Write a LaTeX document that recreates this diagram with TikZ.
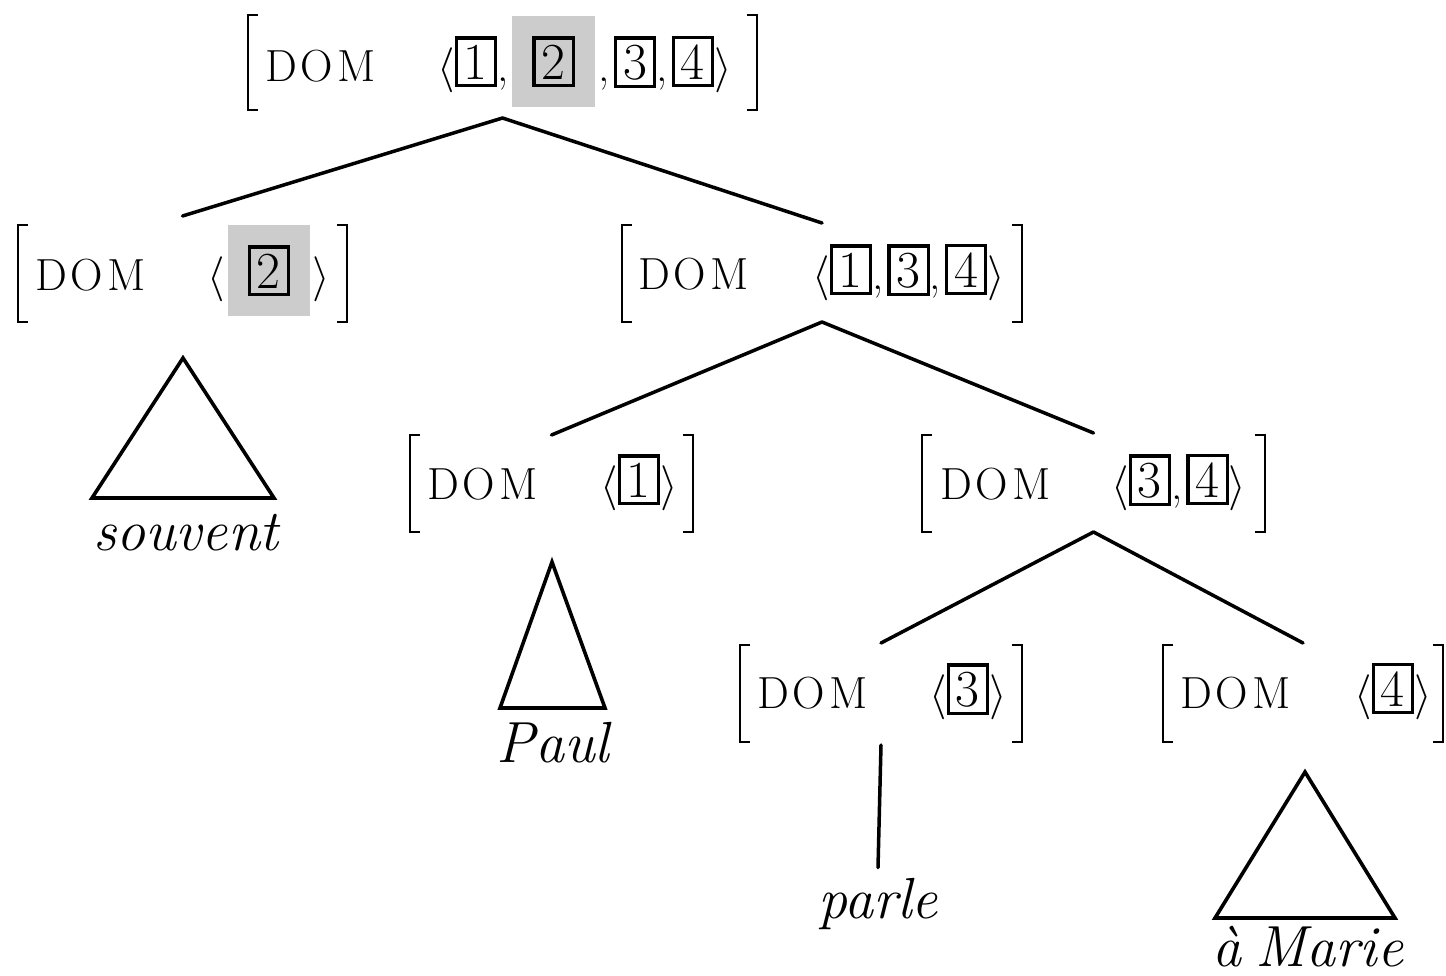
\RequirePackage{fix-cm}
\documentclass[tikz,border=0pt]{standalone}
\usepackage{xcolor}
\newcommand{\bx}[1]{\raisebox{2pt}{\setlength{\fboxsep}{5pt}\setlength{\fboxrule}{3.2pt}\fbox{\makebox[26pt]{\fontsize{52}{60}\selectfont #1}}}}
\newcommand{\hl}[1]{{\setlength{\fboxsep}{20pt}\colorbox{black!20}{#1}}}
\newcommand{\DOM}{D\kern4pt O\kern4pt M}
\newcommand{\cm}{,\kern4pt}
\tikzset{
  frame/.style={rectangle, inner sep=0pt, outer sep=0pt},
  brk/.style={line width=2.8pt, line cap=butt},
  br/.style={line width=3.5pt, line cap=round},
  avm/.style={inner sep=0pt, anchor=base west, font=\fontsize{45}{52}\selectfont},
  word/.style={inner sep=0pt, anchor=base, font=\fontsize{58}{66}\selectfont\itshape},
  tri/.style={line width=3.6pt, line join=miter}
}
\newcommand{\brackets}[1]{%
  \draw[brk] ([xshift=10pt]#1.north west) -- (#1.north west) -- (#1.south west) -- ([xshift=10pt]#1.south west);
  \draw[brk] ([xshift=-10pt]#1.north east) -- (#1.north east) -- (#1.south east) -- ([xshift=-10pt]#1.south east);}
\begin{document}
\begin{tikzpicture}[x=1pt,y=-1pt]
\useasboundingbox (0,0) rectangle (1446,975);
% frames
\node[frame, minimum width=509pt, minimum height=95pt] (t) at (502.5,62.5) {};
\node[frame, minimum width=329pt, minimum height=97pt] (l1) at (182.5,273.5) {};
\node[frame, minimum width=400pt, minimum height=97pt] (r1) at (822,273.5) {};
\node[frame, minimum width=283pt, minimum height=97pt] (rl) at (551.5,483.5) {};
\node[frame, minimum width=343pt, minimum height=97pt] (rr) at (1093.5,483.5) {};
\node[frame, minimum width=282pt, minimum height=97pt] (rrl) at (881,693.5) {};
\node[frame, minimum width=280pt, minimum height=97pt] (rrr) at (1303,693.5) {};
\brackets{t}\brackets{l1}\brackets{r1}\brackets{rl}\brackets{rr}\brackets{rrl}\brackets{rrr}
% contents
\node[avm] (t-d) at (265,81) {\DOM};
\node[avm] (t-l) at (437,81) {$\langle$\bx{1}\cm\hl{\bx{2}}\kern4pt\cm\bx{3}\cm\bx{4}$\rangle$};
\node[avm] (l1-d) at (35,290) {\DOM};
\node[avm] (l1-l) at (207,290) {$\langle$\kern3pt\hl{\bx{2}}\kern2pt$\rangle$};
\node[avm] (r1-d) at (638,289) {\DOM};
\node[avm] (r1-l) at (812,289) {$\langle$\bx{1}\cm\bx{3}\cm\bx{4}$\rangle$};
\node[avm] (rl-d) at (427,499) {\DOM};
\node[avm] (rl-l) at (600,499) {$\langle$\bx{1}$\rangle$};
\node[avm] (rr-d) at (940,499) {\DOM};
\node[avm] (rr-l) at (1111,499) {$\langle$\bx{3}\cm\bx{4}$\rangle$};
\node[avm] (rrl-d) at (757,708) {\DOM};
\node[avm] (rrl-l) at (929,708) {$\langle$\bx{3}$\rangle$};
\node[avm] (rrr-d) at (1180,708) {\DOM};
\node[avm] (rrr-l) at (1354,708) {$\langle$\bx{4}$\rangle$};
% branches
\draw[br] ([yshift=-8pt]t.south) -- ([yshift=9pt]l1.north);
\draw[br] ([yshift=-8pt]t.south) -- ([yshift=2pt]r1.north);
\draw[br] (r1.south) -- (rl.north);
\draw[br] (r1.south) -- ([yshift=2pt]rr.north);
\draw[br] (rr.south) -- ([yshift=2pt]rrl.north);
\draw[br] (rr.south) -- ([yshift=2pt]rrr.north);
% words
\node[word] (w1) at (186,550) {souvent};
\node[word] (w2) at (553,762) {Paul};
\node[word] (w3) at (878,918) {parle};
\node[word] (w4) at (1308,966) {à\hspace{14pt}Marie};
\draw[br] ([yshift=-3pt]rrl.south) -- ([yshift=10pt]w3.north);
% triangles
\coordinate (a1) at (183,358); \coordinate (b1) at (92,498); \coordinate (c1) at (274,498);
\draw[tri] (a1) -- (b1) -- (c1) -- cycle;
\coordinate (a2) at (552,562); \coordinate (b2) at (500,708); \coordinate (c2) at (605,708);
\draw[tri] (a2) -- (b2) -- (c2) -- cycle;
\coordinate (a3) at (1305,772); \coordinate (b3) at (1215,918); \coordinate (c3) at (1395,918);
\draw[tri] (a3) -- (b3) -- (c3) -- cycle;
\end{tikzpicture}
\end{document}
